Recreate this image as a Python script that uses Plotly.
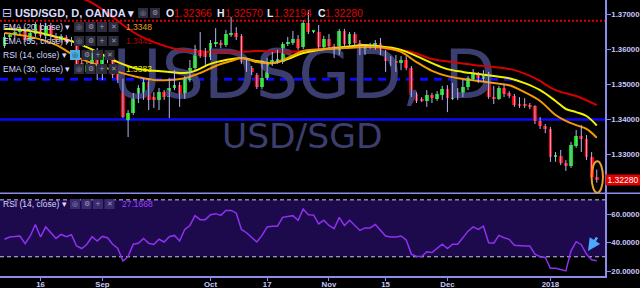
import plotly.graph_objects as go

# ---------------- data ----------------
bar_index = list(range(116))
opens = [1.3610,1.3636,1.3641,1.3650,1.3656,1.3627,1.3644,1.3670,1.3639,1.3667,
         1.3639,1.3627,1.3636,1.3621,1.3619,1.3561,1.3536,1.3550,1.3593,1.3556,
         1.3579,1.3576,1.3547,1.3507,1.3399,1.3419,1.3470,1.3464,1.3507,1.3464,
         1.3456,1.3478,1.3464,1.3490,1.3498,1.3464,1.3513,1.3547,1.3599,1.3593,
         1.3579,1.3616,1.3619,1.3613,1.3641,1.3647,1.3639,1.3564,1.3547,1.3527,
         1.3493,1.3518,1.3561,1.3567,1.3564,1.3616,1.3619,1.3630,1.3607,1.3676,
         1.3650,1.3650,1.3607,1.3630,1.3610,1.3590,1.3653,1.3616,1.3644,1.3619,
         1.3590,1.3610,1.3607,1.3619,1.3593,1.3567,1.3564,1.3561,1.3570,1.3547,
         1.3473,1.3456,1.3453,1.3470,1.3459,1.3470,1.3487,1.3459,1.3476,1.3470,
         1.3493,1.3516,1.3530,1.3516,1.3530,1.3464,1.3459,1.3490,1.3476,1.3467,
         1.3441,1.3441,1.3441,1.3438,1.3396,1.3381,1.3373,1.3295,1.3296,1.3276,
         1.3267,1.3324,1.3353,1.3344,1.3293,1.32366]
highs = [1.3647,1.3647,1.3661,1.3664,1.3664,1.3656,1.3679,1.3676,1.3676,1.3676,
         1.3647,1.3644,1.3641,1.3636,1.3627,1.3570,1.3564,1.3599,1.3604,1.3599,
         1.3584,1.3581,1.3556,1.3516,1.3427,1.3476,1.3498,1.3518,1.3518,1.3478,
         1.3490,1.3484,1.3518,1.3541,1.3507,1.3524,1.3570,1.3613,1.3650,1.3604,
         1.3627,1.3661,1.3627,1.3656,1.3693,1.3664,1.3644,1.3576,1.3553,1.3533,
         1.3570,1.3576,1.3593,1.3599,1.3621,1.3636,1.3653,1.3641,1.3684,1.3713,
         1.3653,1.3670,1.3639,1.3644,1.3616,1.3659,1.3659,1.3650,1.3650,1.3627,
         1.3616,1.3619,1.3627,1.3633,1.3599,1.3581,1.3584,1.3581,1.3581,1.3553,
         1.3478,1.3464,1.3484,1.3476,1.3481,1.3496,1.3498,1.3504,1.3490,1.3513,
         1.3524,1.3544,1.3536,1.3541,1.3536,1.3496,1.3496,1.3501,1.3481,1.3473,
         1.3464,1.3461,1.3447,1.3441,1.3407,1.3387,1.3379,1.3307,1.3313,1.3284,
         1.3336,1.3370,1.3384,1.3356,1.3307,1.32570]
lows = [1.3604,1.3627,1.3633,1.3641,1.3621,1.3621,1.3636,1.3633,1.3633,1.3627,
        1.3621,1.3619,1.3613,1.3610,1.3550,1.3530,1.3530,1.3541,1.3513,1.3513,
        1.3561,1.3518,1.3504,1.3404,1.3350,1.3413,1.3447,1.3456,1.3427,1.3433,
        1.3427,1.3456,1.3404,1.3484,1.3436,1.3459,1.3507,1.3541,1.3576,1.3556,
        1.3570,1.3607,1.3604,1.3607,1.3636,1.3627,1.3559,1.3536,1.3527,1.3487,
        1.3487,1.3513,1.3553,1.3559,1.3559,1.3610,1.3613,1.3599,1.3601,1.3644,
        1.3647,1.3601,1.3601,1.3604,1.3576,1.3584,1.3607,1.3610,1.3610,1.3584,
        1.3584,1.3601,1.3599,1.3584,1.3536,1.3553,1.3536,1.3541,1.3541,1.3464,
        1.3447,1.3450,1.3436,1.3447,1.3453,1.3456,1.3421,1.3456,1.3456,1.3464,
        1.3484,1.3510,1.3504,1.3507,1.3459,1.3444,1.3456,1.3464,1.3461,1.3436,
        1.3433,1.3433,1.3430,1.3387,1.3373,1.3361,1.3279,1.3279,1.3270,1.3253,
        1.3262,1.3319,1.3307,1.3284,1.3233,1.32194]
closes = [1.3636,1.3641,1.3650,1.3653,1.3627,1.3647,1.3673,1.3639,1.3667,1.3639,
          1.3627,1.3639,1.3621,1.3627,1.3556,1.3536,1.3556,1.3590,1.3556,1.3584,
          1.3570,1.3527,1.3513,1.3407,1.3419,1.3473,1.3490,1.3507,1.3456,1.3456,
          1.3478,1.3464,1.3490,1.3498,1.3464,1.3516,1.3547,1.3601,1.3581,1.3579,
          1.3619,1.3619,1.3613,1.3644,1.3647,1.3636,1.3564,1.3547,1.3536,1.3493,
          1.3518,1.3564,1.3570,1.3573,1.3616,1.3619,1.3630,1.3604,1.3676,1.3650,
          1.3651,1.3607,1.3630,1.3610,1.3590,1.3653,1.3616,1.3644,1.3619,1.3590,
          1.3607,1.3607,1.3619,1.3590,1.3567,1.3561,1.3563,1.3570,1.3547,1.3470,
          1.3453,1.3455,1.3470,1.3461,1.3473,1.3487,1.3461,1.3476,1.3475,1.3493,
          1.3518,1.3530,1.3518,1.3530,1.3464,1.3459,1.3490,1.3473,1.3467,1.3441,
          1.3439,1.3439,1.3436,1.3396,1.3381,1.3373,1.3293,1.3296,1.3276,1.3267,
          1.3327,1.3353,1.3344,1.3293,1.3236,1.32280]

rsi = [42.3,43.9,44.2,44.6,39.3,44.6,52.7,43.9,51.0,46.9,
       42.9,45.7,44.1,45.5,37.6,35.8,38.8,44.1,41.1,44.3,
       43.4,38.8,35.8,27.0,30.2,38.8,39.5,42.9,39.5,38.6,
       42.3,40.4,44.1,45.0,41.1,49.2,52.0,58.9,56.1,56.1,
       59.6,60.3,59.1,62.6,62.6,60.8,49.2,46.9,43.9,40.4,
       45.0,51.0,51.5,51.5,57.7,58.2,58.9,55.7,63.5,59.6,
       59.4,53.1,55.7,52.0,49.7,57.7,52.0,55.7,52.0,48.5,
       50.3,50.3,52.7,48.5,44.6,43.9,43.9,44.6,41.8,31.9,
       30.2,30.2,33.5,33.0,35.8,38.8,35.8,38.8,38.8,43.4,
       48.0,51.0,49.2,51.5,39.9,39.5,45.0,43.4,42.3,38.1,
       37.6,37.6,37.6,31.9,30.0,29.5,21.9,21.9,21.0,20.1,
       34.2,40.6,38.5,31.9,27.9,27.1668]

ema20_index = [0,5,10,14,18,22,26,29,32,35,38,41,44,46,49,52,55,58,62,66,70,74,77,80,83,86,89,92,95,98,101,104,107,109,111,113,115]
ema20 = [1.3647,1.3636,1.3613,1.3579,1.3556,1.3536,1.3521,1.3513,1.3513,1.3518,1.3533,1.3553,1.3567,1.3576,1.3564,1.3561,1.3576,1.3596,1.3601,1.3604,1.3607,1.3604,1.3593,1.3564,1.3539,1.3524,1.3516,1.3510,1.3504,1.3498,1.3478,1.3453,1.3413,1.3396,1.3384,1.3373,1.3348]
ema30_index = [0,5,10,14,18,22,26,29,32,35,37,40,43,46,49,52,55,58,62,66,70,74,77,80,83,86,89,92,95,98,101,104,107,109,111,113,115]
ema30 = [1.3659,1.3653,1.3636,1.3619,1.3593,1.3564,1.3544,1.3539,1.3536,1.3533,1.3539,1.3559,1.3570,1.3576,1.3567,1.3561,1.3573,1.3590,1.3601,1.3607,1.3613,1.3607,1.3599,1.3581,1.3561,1.3544,1.3536,1.3530,1.3524,1.3518,1.3504,1.3484,1.3453,1.3430,1.3421,1.3410,1.3383]
ema55_index = [10,14,17,20,23,26,29,34,40,45,50,55,60,65,70,75,79,83,87,91,95,99,103,107,111,115]
ema55 = [1.3784,1.3753,1.3733,1.3704,1.3670,1.3641,1.3621,1.3599,1.3593,1.3593,1.3596,1.3593,1.3599,1.3607,1.3607,1.3601,1.3593,1.3573,1.3564,1.3556,1.3550,1.3541,1.3518,1.3484,1.3467,1.3441]

tick_index = [7, 19, 40, 51, 63, 74, 86, 106]
tick_text = ["16", "Sep", "Oct", "17", "Nov", "15", "Dec", "2018"]
price_ticks = [1.33, 1.34, 1.35, 1.36, 1.37]
rsi_ticks = [20, 40, 60]
support_level = 1.3400
mid_level = 1.3515
top_level = 1.3682
last_close = closes[-1]

# ---------------- styling ----------------
FONT = "Liberation Sans, Arial, sans-serif"
LAV = "#c8c8ff"
AXIS = "#8c8cec"
W, PH, PW = 640, 276, 605          # plot area in px
MAIN_BOTTOM = 193.3
split = (PH - MAIN_BOTTOM) / PH
x_range = [-0.874, 116.6]

def px(x): return x / PW
def py(y): return 1 - y / PH

fig = go.Figure()

# watermark (drawn first so that everything else sits on top of it)
fig.add_trace(go.Scatter(x=[58.2], y=[1.3508], mode="text", text=["USDSGD, D"],
                         textfont=dict(size=67, color="#3b3e6e", family="DejaVu Sans"),
                         hoverinfo="skip", xaxis="x", yaxis="y"))
fig.add_trace(go.Scatter(x=[57.8], y=[1.3344], mode="text", text=["USD/SGD"],
                         textfont=dict(size=34.5, color="#3b3e6e", family="DejaVu Sans"),
                         hoverinfo="skip", xaxis="x", yaxis="y"))

# EMA lines
fig.add_trace(go.Scatter(x=ema55_index, y=ema55, mode="lines", line=dict(color="#d60000", width=2, shape="spline"),
                         xaxis="x", yaxis="y", hoverinfo="skip"))
fig.add_trace(go.Scatter(x=ema30_index, y=ema30, mode="lines", line=dict(color="#f2f200", width=2, shape="spline"),
                         xaxis="x", yaxis="y", hoverinfo="skip"))
fig.add_trace(go.Scatter(x=ema20_index, y=ema20, mode="lines", line=dict(color="#f59a00", width=2, shape="spline"),
                         xaxis="x", yaxis="y", hoverinfo="skip"))

# wicks
wx, wy = [], []
for i, h, l in zip(bar_index, highs, lows):
    wx += [i, i, None]
    wy += [l, h, None]
fig.add_trace(go.Scatter(x=wx, y=wy, mode="lines", line=dict(color="#b4b4f4", width=1),
                         xaxis="x", yaxis="y", hoverinfo="skip"))

# bodies
base = [min(o, c) for o, c in zip(opens, closes)]
height = [max(abs(c - o), 0.0003) for o, c in zip(opens, closes)]
colors = ["#00e000" if c >= o else "#f00000" for o, c in zip(opens, closes)]
fig.add_trace(go.Bar(x=bar_index, y=height, base=base, width=0.74,
                     marker=dict(color=colors, line=dict(width=0)),
                     xaxis="x", yaxis="y", hoverinfo="skip"))

# RSI
fig.add_trace(go.Scatter(x=bar_index, y=rsi, mode="lines", line=dict(color="#9030f0", width=1.5),
                         xaxis="x2", yaxis="y2", hoverinfo="skip"))

shapes = []
shapes.append(dict(type="line", xref="paper", yref="y", x0=0, x1=1, y0=top_level, y1=top_level,
                   line=dict(color="#e00000", width=2, dash="2px,2px"), layer="below"))
shapes.append(dict(type="line", xref="x", yref="y", x0=x_range[0], x1=98.8, y0=mid_level, y1=mid_level,
                   line=dict(color="#0a0aff", width=3, dash="8px,6px"), layer="below"))
shapes.append(dict(type="line", xref="paper", yref="y", x0=0, x1=1, y0=support_level, y1=support_level,
                   line=dict(color="#0a0aff", width=2.5), layer="below"))
shapes.append(dict(type="rect", xref="paper", yref="y2", x0=0, x1=1, y0=30, y1=70,
                   fillcolor="#1d0a4c", line=dict(width=0), layer="below"))
for lvl in (30, 70):
    shapes.append(dict(type="line", xref="paper", yref="y2", x0=0, x1=1, y0=lvl, y1=lvl,
                       line=dict(color="#c8c8f0", width=1, dash="4px,3px"), layer="below"))
shapes.append(dict(type="line", xref="paper", yref="paper", x0=0, x1=W / PW, y0=split, y1=split,
                   line=dict(color=AXIS, width=1.5)))
shapes.append(dict(type="circle", xref="x", yref="y", x0=114.0, x1=116.2, y0=1.31905, y1=1.3281,
                   line=dict(color="#e8a030", width=2)))

ann = []
def txt(x, y, s, color, size, bold=False, family=FONT, anchor="left"):
    ann.append(dict(x=px(x), y=py(y), xref="paper", yref="paper", showarrow=False,
                    text=f"<b>{s}</b>" if bold else s, xanchor=anchor, yanchor="middle",
                    borderpad=0, font=dict(color=color, size=size, family=family)))

def icon_box(x0, y0, glyph, fill="#2c2c3c", gcolor="#9a9ab0"):
    shapes.append(dict(type="rect", xref="paper", yref="paper", x0=px(x0), x1=px(x0 + 10),
                       y0=py(y0 + 10), y1=py(y0), fillcolor=fill, line=dict(width=0)))
    ann.append(dict(x=px(x0 + 5), y=py(y0 + 5), xref="paper", yref="paper", showarrow=False,
                    text=glyph, xanchor="center", yanchor="middle", borderpad=0,
                    font=dict(color=gcolor, size=7, family="DejaVu Sans")))

# title row
txt(1, 13, "⊟", LAV, 12, family="DejaVu Sans")
txt(14, 13, "USD/SGD, D, OANDA ▾", "#dcdcff", 11, bold=True)
icon_box(138, 8, "◎"); icon_box(150, 8, "⚙")
for lx, letter, nx, val in [(165, "O", 173, "1.32366"), (216, "H", 224, "1.32570"),
                            (266, "L", 273, "1.32194"), (317, "C", 324, "1.32280")]:
    txt(lx, 13, letter, "#e6e6ff", 10.5, bold=True)
    txt(nx, 13, val, "#e00000", 10.5)

# indicator legend rows
rows = [(27, "EMA (20, close) ▾", "1.3348", "#f0a020", 74),
        (41, "EMA (55, close) ▾", "1.3441", "#b80000", 74),
        (55, "RSI (14, close) ▾", None, None, 70),
        (69, "EMA (30, close) ▾", "1.3383", "#e6e600", 74)]
for y, label, val, vcol, ix in rows:
    txt(2, y, label, "#d6d6ff", 8.5)
    for k, g in enumerate(["◎", "⚙", "+", "✕"]):
        if label.startswith("RSI") and k == 0:
            icon_box(ix + k * 11.5, y - 5, "◎", fill="#4ab0e0", gcolor="#103050")
        else:
            icon_box(ix + k * 11.5, y - 5, g)
    if val:
        txt(125, y, val, vcol, 8.5)

# RSI legend
txt(2, 204, "RSI (14, close) ▾", "#d6d6ff", 8.5)
for k, g in enumerate(["◎", "⚙", "+", "✕"]):
    icon_box(70 + k * 11.5, 199, g, fill="#3a2a70")
txt(121, 204, "27.1668", "#a040ff", 8.5)

# last price label
ann.append(dict(x=px(605), y=last_close, xref="paper", yref="y", showarrow=False,
                text="1.32280", xanchor="left", yanchor="middle", bgcolor="#e00000",
                width=34, height=10, borderpad=0, font=dict(color="white", size=8.5, family=FONT)))

# arrow in RSI panel
ann.append(dict(x=px(588), y=py(251), xref="paper", yref="paper", ax=10, ay=-15,
                showarrow=True, arrowhead=2, arrowsize=1, arrowwidth=2.5, arrowcolor="#4aa8ff", text=""))

axis_common = dict(showgrid=False, zeroline=False, fixedrange=True, automargin=False)
tickf = dict(color=LAV, size=7.8, family=FONT)
fig.update_layout(
    width=W, height=288, margin=dict(l=0, r=W - PW, t=0, b=288 - PH, autoexpand=False),
    paper_bgcolor="black", plot_bgcolor="black", showlegend=False, hovermode=False,
    bargap=0,
    xaxis=dict(domain=[0, 1], range=x_range, anchor="y", showticklabels=False, showline=False, **axis_common),
    xaxis2=dict(domain=[0, 1], range=x_range, anchor="y2", matches="x", tickmode="array",
                tickvals=tick_index, ticktext=[f"<b>{t}</b>" for t in tick_text], ticks="outside", ticklen=3,
                ticklabelstandoff=-3,
                tickcolor=AXIS, showline=True, linecolor=AXIS, linewidth=1.5, tickfont=tickf, **axis_common),
    yaxis=dict(domain=[split, 1], range=[1.318916, 1.374143], side="right", anchor="x",
               tickmode="array", tickvals=price_ticks, ticktext=[f"<b>{v:.5f}</b>" for v in price_ticks],
               ticks="outside", ticklen=4, tickcolor=AXIS, showline=True, linecolor=AXIS, linewidth=1.5,
               ticklabelstandoff=-1, tickfont=tickf, **axis_common),
    yaxis2=dict(domain=[0, split], range=[16.5, 74.6], side="right", anchor="x2",
                tickmode="array", tickvals=rsi_ticks, ticktext=[f"<b>{v:.4f}</b>" for v in rsi_ticks],
                ticks="outside", ticklen=4, tickcolor=AXIS, showline=True, linecolor=AXIS, linewidth=1.5,
                ticklabelstandoff=-1, tickfont=tickf, **axis_common),
    shapes=shapes, annotations=ann,
)

fig.write_html("out.html", config={"displayModeBar": False})
